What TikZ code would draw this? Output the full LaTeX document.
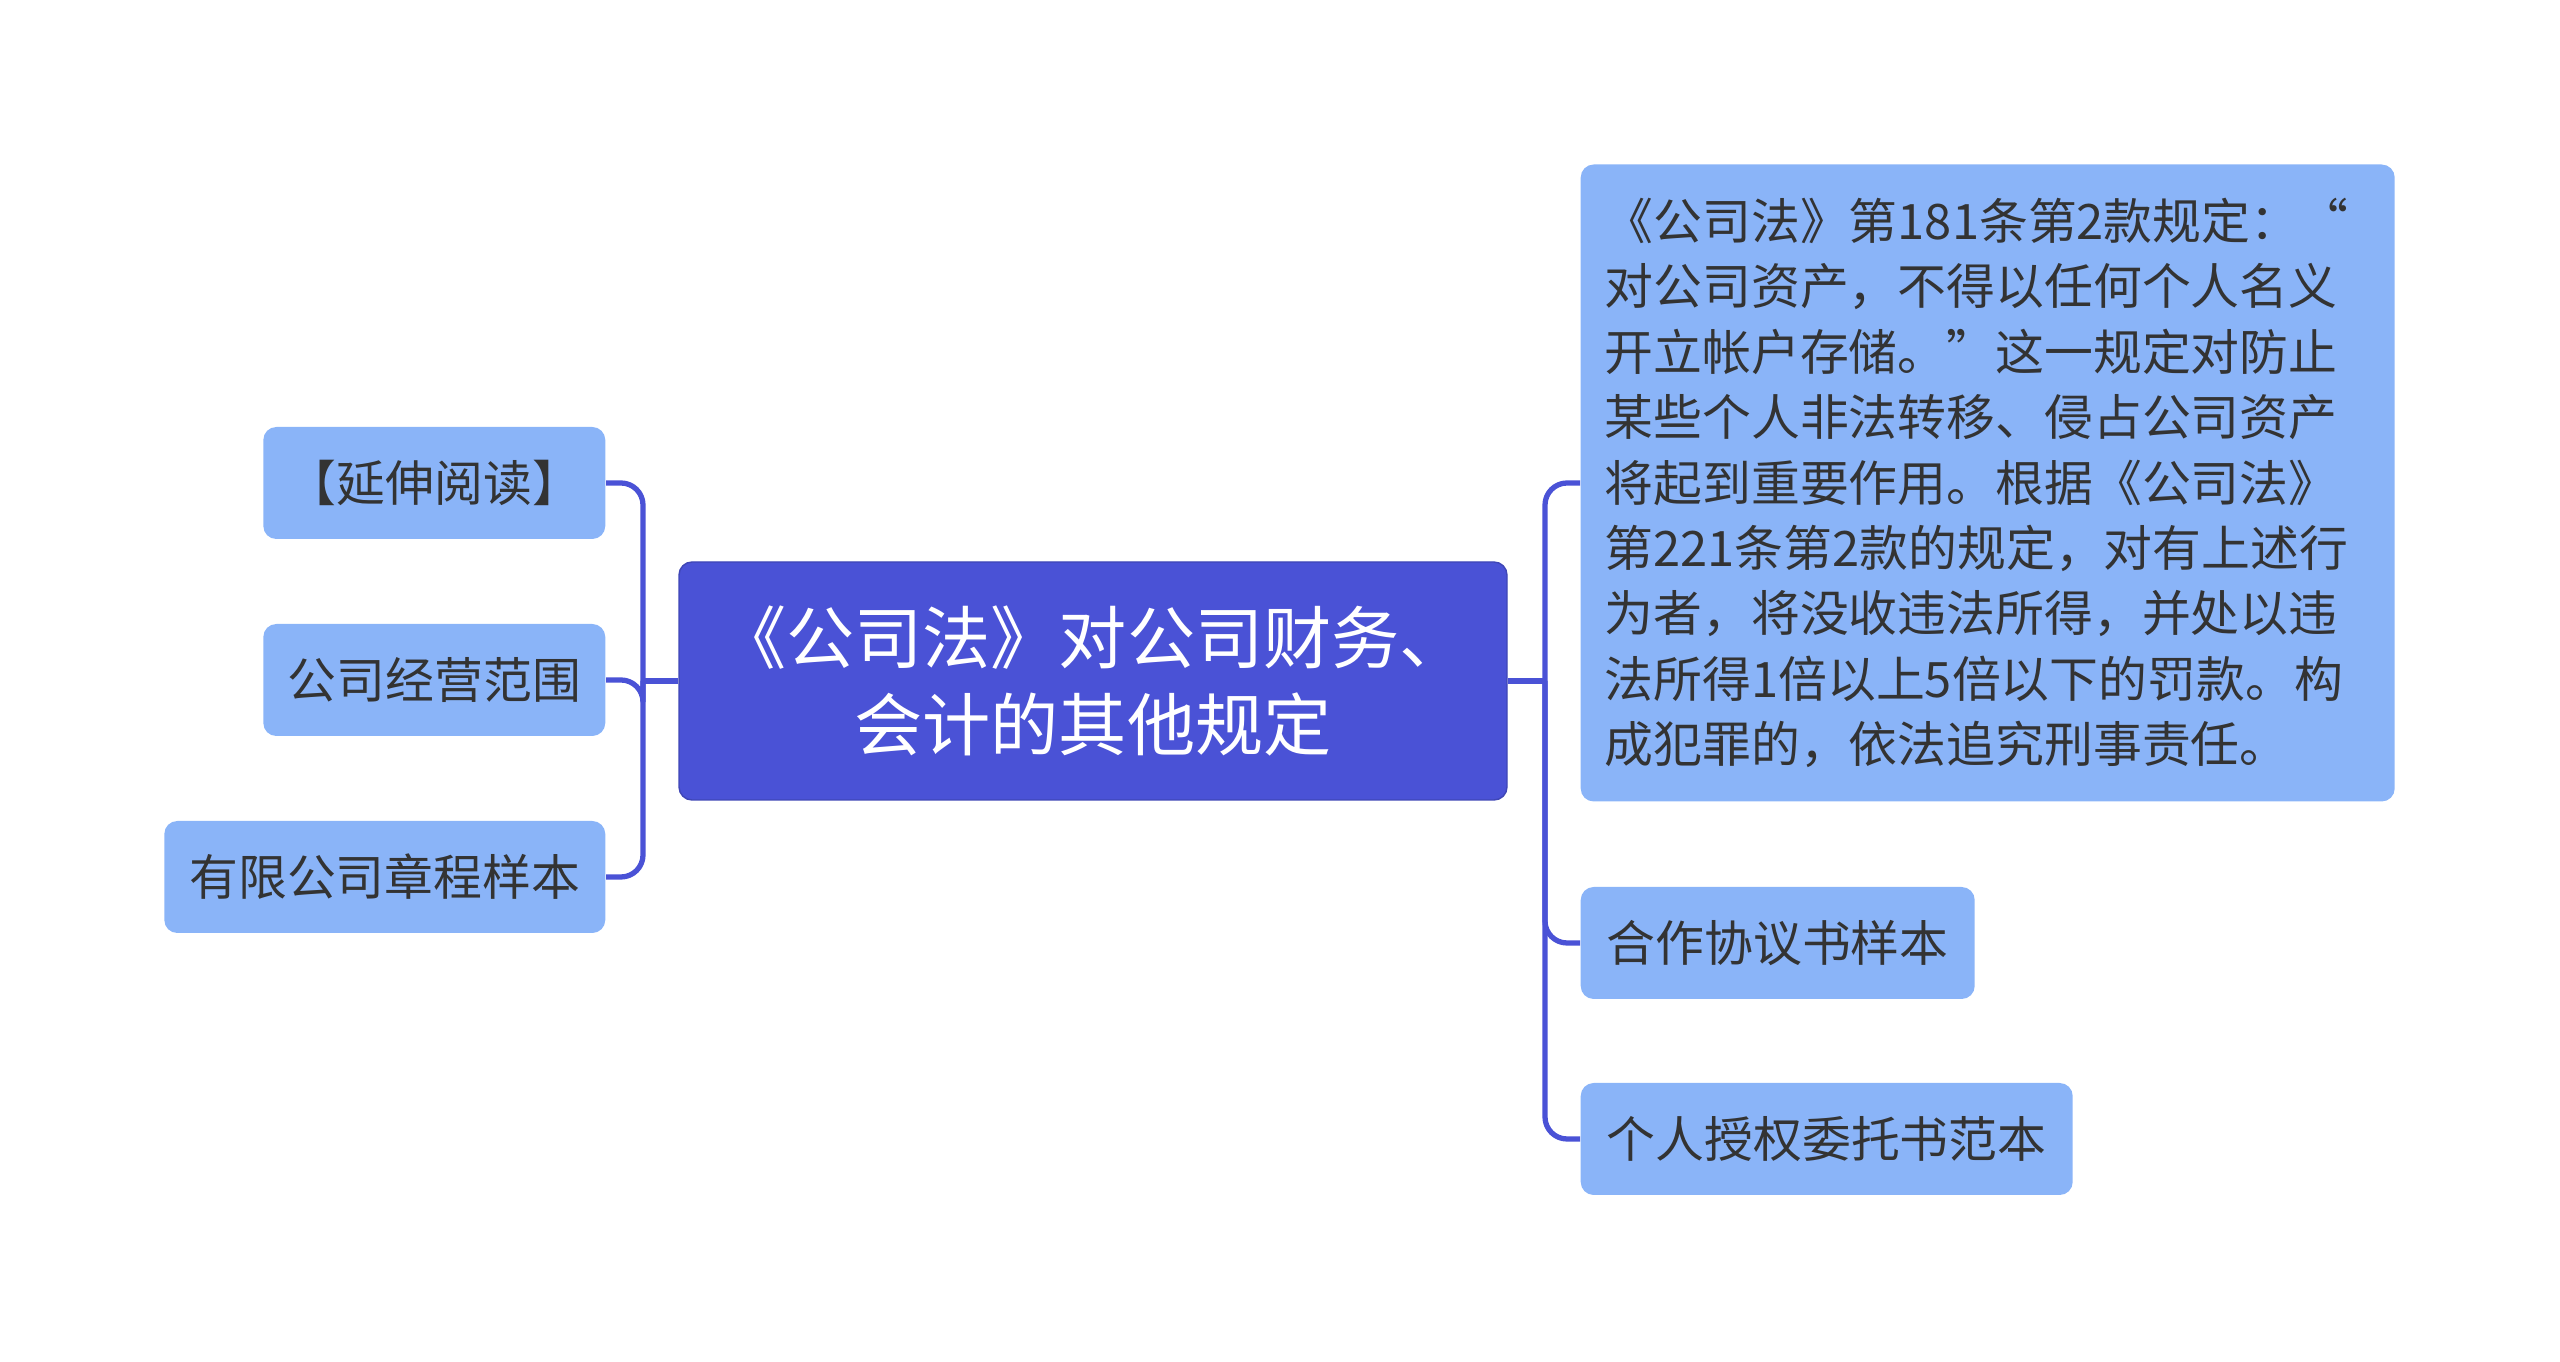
\documentclass[tikz,border=0pt]{standalone}
\usepackage{fontspec}
\setmainfont{Noto Sans CJK SC}
\definecolor{rootblue}{HTML}{4A52D6}
\definecolor{leafblue}{HTML}{8AB4F8}
\definecolor{inkgray}{HTML}{333333}

\begin{document}
\begin{tikzpicture}[x=0.1mm,y=-0.1mm,
  leaf/.style={fill=leafblue, rounded corners=1.3mm, text=inkgray, inner sep=0pt, font=\fontsize{13.9}{18.6}\selectfont, minimum height=11.2mm},
  root/.style={fill=rootblue, draw=rootblue!85!black, rounded corners=1.3mm, text=white, align=center, font=\fontsize{19.4}{24.6}\selectfont, minimum width=82.8mm, minimum height=23.8mm},
  link/.style={draw=rootblue, line width=1.5pt, rounded corners=2.2mm}]
\useasboundingbox (0,0) rectangle (2560,1362);
\node[root] (root) at (1093,681) {《公司法》对公司财务、\\会计的其他规定};
% left side
\node[leaf, anchor=east, minimum width=34.2mm] (read) at (606,483) {【延伸阅读】};
\node[leaf, anchor=east, minimum width=34.2mm] (scope) at (606,680) {公司经营范围};
\node[leaf, anchor=east, minimum width=44.1mm] (charter) at (606,877) {有限公司章程样本};
% right side
\node[leaf, anchor=west, inner xsep=2.4mm, text width=76.6mm, minimum height=63.7mm, align=left] (rule) at (1580,483) {《公司法》第181条第2款规定：“\\对公司资产，不得以任何个人名义\\开立帐户存储。”这一规定对防止\\某些个人非法转移、侵占公司资产\\将起到重要作用。根据《公司法》\\第221条第2款的规定，对有上述行\\为者，将没收违法所得，并处以违\\法所得1倍以上5倍以下的罚款。构\\成犯罪的，依法追究刑事责任。};
\node[leaf, anchor=west, minimum width=39.4mm] (coop) at (1580,943) {合作协议书样本};
\node[leaf, anchor=west, minimum width=49.2mm] (proxy) at (1580,1139) {个人授权委托书范本};
% connectors
\coordinate (lj) at (643,681);
\coordinate (rj) at (1545,681);
\draw[link] (root.west) -- (lj);
\draw[link] (lj) |- (read.east);
\draw[link] (lj) |- (scope.east);
\draw[link] (lj) |- (charter.east);
\draw[link] (root.east) -- (rj);
\draw[link] (rj) |- (rule.west);
\draw[link] (rj) |- (coop.west);
\draw[link] (rj) |- (proxy.west);
\end{tikzpicture}
\end{document}
